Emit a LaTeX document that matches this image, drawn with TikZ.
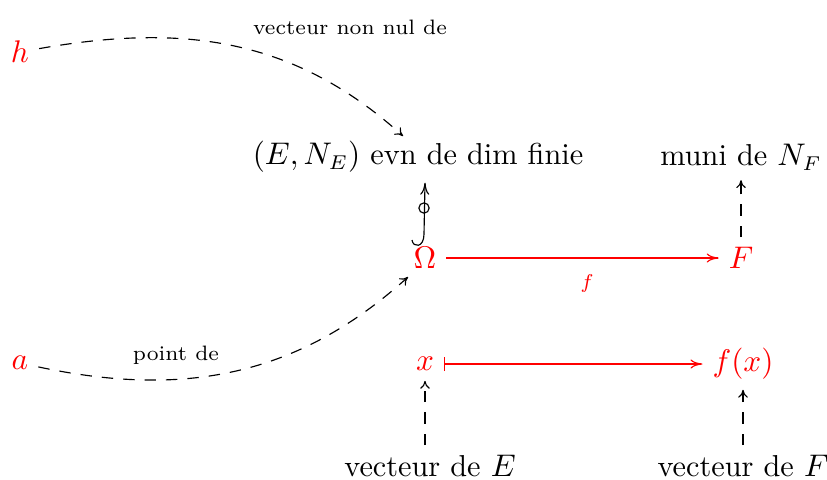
\documentclass[tikz,border=0pt]{standalone}
\usetikzlibrary{arrows.meta,calc}
\begin{document}
\begin{tikzpicture}[x=0.35pt,y=-0.35pt,
  every node/.style={font=\fontsize{10.6pt}{13pt}\selectfont},
  tip/.style={-{Computer Modern Rightarrow[length=2.8pt,width=3.4pt]}},
  longtip/.style={-{Computer Modern Rightarrow[length=4.2pt,width=3.2pt]}},
  dasharr/.style={tip,dash pattern=on 4pt off 3.5pt},
  redarr/.style={longtip,red},
  lab/.style={font=\fontsize{7.3pt}{9pt}\selectfont},
  ]
\useasboundingbox (0,0) rectangle (827,479);
\node[red] (h) at (20,52) {$h$};
\node (E) at (418,157) {$(E,N_E)$ evn de dim finie};
\node (NF) at (741,157) {muni de $N_F$};
\node[red] (O) at (425,258) {$\Omega$};
\node[red] (F) at (741,258) {$F$};
\node[red] (a) at (20,363) {$a$};
\node[red] (x) at (425,364) {$x$};
\node[red] (fx) at (743,364) {$f(x)$};
\node (vE) at (430,466) {vecteur de $E$};
\node (vF) at (743,466) {vecteur de $F$};
\node[lab] (l1) at (350,27) {vecteur non nul de};
\node[lab] (l2) at (176,355) {point de};
\node[lab,red] (lf) at (587,283) {$f$};
\coordinate (Et) at (403,136);
\coordinate (Ot) at (408,277);
\coordinate (hk) at (412,240);
% curved dashed arrows
\draw[dasharr] (h) to[out=10,in=138] (Et);
\draw[dasharr] (a) to[out=-12,in=222] (Ot);
% hook inclusion
\draw[longtip] (hk) .. controls (413,248) and (424,248) .. (424,234) -- (O |- E.south);
\node[draw,circle,inner sep=0pt,minimum size=3.6pt] (c) at (424,208) {};
% red maps
\draw[redarr] (O) -- (F);
\draw[red,{Bar[width=5pt]}-{Computer Modern Rightarrow[length=4.2pt,width=3.2pt]}] (x) -- (fx);
% vertical dashed
\draw[dasharr] (vE.north -| x) -- (x);
\draw[dasharr] (vF) -- (fx);
\draw[dasharr] (F) -- (NF);
\end{tikzpicture}
\end{document}
